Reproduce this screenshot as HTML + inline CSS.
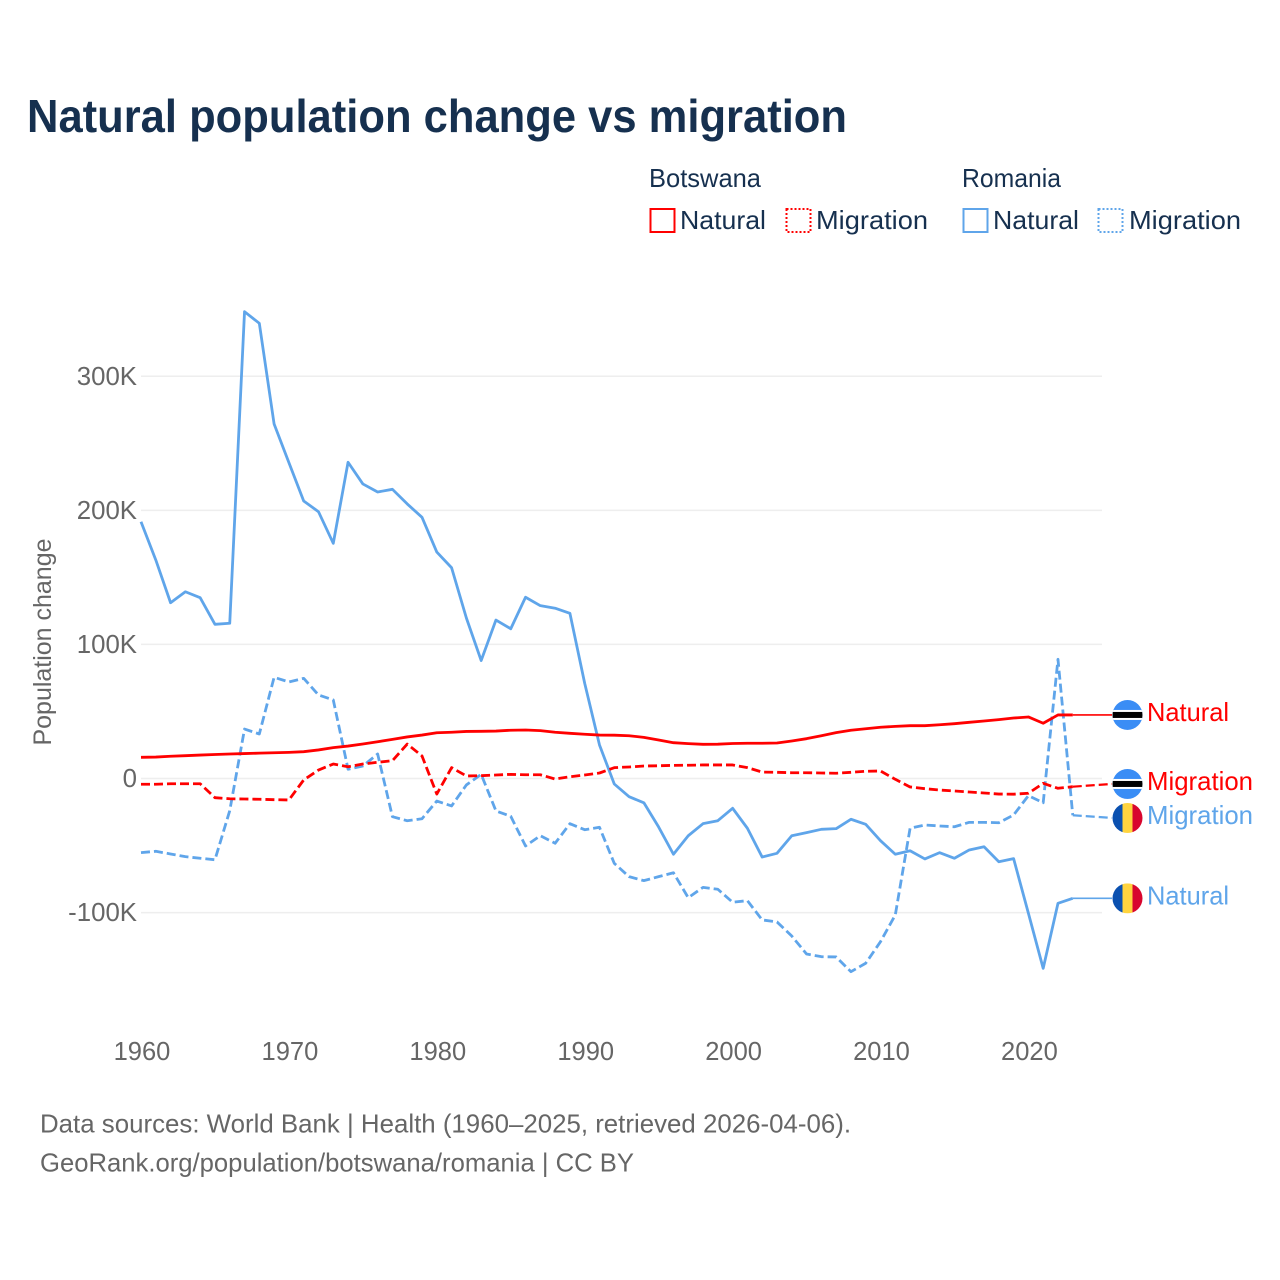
<!DOCTYPE html>
<html lang="en">
<head>
<meta charset="utf-8">
<title>Natural population change vs migration</title>
<style>
html,body{margin:0;padding:0;background:#fff;width:1280px;height:1280px;overflow:hidden}
svg{display:block}
text{font-family:"Liberation Sans",sans-serif}
</style>
</head>
<body>
<svg id="chart" xmlns="http://www.w3.org/2000/svg" width="1280" height="1280" viewBox="0 0 1280 1280">
  <rect width="1280" height="1280" fill="#ffffff"/>
  <text x="27" y="132" font-size="46" font-weight="700" fill="#16304f" textLength="820" lengthAdjust="spacingAndGlyphs">Natural population change vs migration</text>

  <g font-size="26" fill="#16304f">
    <text x="649" y="187" textLength="112" lengthAdjust="spacingAndGlyphs">Botswana</text>
    <text x="962" y="187" textLength="99" lengthAdjust="spacingAndGlyphs">Romania</text>
    <rect x="650.5" y="209" width="24" height="23" fill="none" stroke="#ff0000" stroke-width="2"/>
    <text x="680" y="229" textLength="86" lengthAdjust="spacingAndGlyphs">Natural</text>
    <rect x="786.5" y="209" width="24" height="23" fill="none" stroke="#ff0000" stroke-width="2" stroke-dasharray="2 2"/>
    <text x="816" y="229" textLength="112" lengthAdjust="spacingAndGlyphs">Migration</text>
    <rect x="963.5" y="209" width="24" height="23" fill="none" stroke="#5fa5ea" stroke-width="2"/>
    <text x="993" y="229" textLength="86" lengthAdjust="spacingAndGlyphs">Natural</text>
    <rect x="1098.5" y="209" width="24" height="23" fill="none" stroke="#5fa5ea" stroke-width="2" stroke-dasharray="2 2"/>
    <text x="1129" y="229" textLength="112" lengthAdjust="spacingAndGlyphs">Migration</text>
  </g>

  <text transform="translate(51,642) rotate(-90)" text-anchor="middle" font-size="25" fill="#666666" textLength="207" lengthAdjust="spacingAndGlyphs">Population change</text>

  <g id="grid"></g>
  <g id="y-ticks"></g>
  <g id="x-ticks"></g>
  <g id="series"></g>
  <g id="end-labels"></g>

  <text x="40" y="1132.5" font-size="26" fill="#666666" textLength="811" lengthAdjust="spacingAndGlyphs">Data sources: World Bank | Health (1960–2025, retrieved 2026-04-06).</text>
  <text x="40" y="1171.5" font-size="26" fill="#666666" textLength="594" lengthAdjust="spacingAndGlyphs">GeoRank.org/population/botswana/romania | CC BY</text>
</svg>

<script>
// Values in thousands of people, one per year from 1960.
var firstYear = 1960;
var xTickYears = [1960, 1970, 1980, 1990, 2000, 2010, 2020];
var yTickValues = [300, 200, 100, 0, -100];
var yTickLabels = ['300K', '200K', '100K', '0', '-100K'];

var romaniaNatural = [191.5,163.0,131.1,139.3,134.9,115.0,115.8,348.2,339.5,264.4,235.6,207.0,199.0,175.4,235.9,219.7,213.7,215.7,204.8,194.8,168.9,157.2,119.7,88.0,118.2,111.7,135.2,128.9,127.0,123.2,71.0,25.0,-4.1,-13.6,-18.1,-36.2,-56.5,-42.7,-33.7,-31.5,-22.2,-37.1,-58.6,-55.8,-42.7,-40.4,-37.9,-37.4,-30.4,-34.2,-46.4,-56.5,-53.9,-60.0,-55.3,-59.5,-53.3,-50.9,-62.1,-59.8,-100.5,-141.6,-93.1,-89.4];
var romaniaMigration = [-55.3,-54.3,-56.3,-58.3,-59.5,-60.6,-24.0,36.9,33.2,75.5,72.0,74.7,62.3,58.6,6.9,9.3,18.3,-28.5,-31.5,-30.0,-16.8,-20.5,-4.8,3.1,-24.2,-28.2,-50.3,-42.7,-48.3,-33.7,-38.2,-36.4,-63.3,-73.2,-76.2,-73.2,-70.3,-88.9,-81.2,-82.6,-92.3,-91.1,-105.5,-107.0,-117.5,-130.9,-132.9,-133.1,-144.1,-137.8,-121.7,-101.8,-37.1,-34.7,-35.4,-36.0,-32.7,-32.7,-33.0,-27.2,-12.8,-18.1,88.9,-27.4];
var botswanaNatural = [15.8,16.0,16.6,17.0,17.5,17.9,18.3,18.6,18.9,19.2,19.5,20.0,21.3,23.0,24.2,25.7,27.4,29.2,31.0,32.4,34.1,34.5,35.1,35.2,35.4,36.0,36.2,35.7,34.5,33.7,33.0,32.4,32.3,31.9,30.7,28.7,26.7,26.0,25.5,25.6,26.1,26.3,26.3,26.5,28.0,29.7,31.9,34.2,36.0,37.1,38.2,38.9,39.4,39.4,40.1,40.9,41.9,42.9,43.9,45.1,45.9,41.2,47.4,47.4];
var botswanaMigration = [-4.3,-4.3,-3.9,-3.9,-3.9,-14.3,-15.1,-15.3,-15.5,-15.8,-16.0,-1.1,6.3,10.8,8.8,10.8,12.1,13.3,25.7,16.8,-11.6,8.1,1.9,2.1,2.6,3.1,2.8,2.8,-0.4,1.3,2.6,4.1,8.1,8.6,9.3,9.5,9.8,9.9,10.1,10.1,10.1,8.1,4.8,4.6,4.3,4.3,4.1,3.9,4.6,5.4,5.6,-0.6,-6.3,-7.6,-8.6,-9.3,-10.1,-10.8,-11.6,-11.7,-11.0,-3.6,-7.3,-6.1];

var SVGNS = 'http://www.w3.org/2000/svg';
var RED = '#ff0000';
var BLUE = '#5fa5ea';

function xScale(year) { return 141 + (year - firstYear) * 14.79; }
function yScale(value) { return 778.5 - value * 1.3407; }

function make(tag, attrs, parent) {
  var el = document.createElementNS(SVGNS, tag);
  for (var k in attrs) el.setAttribute(k, attrs[k]);
  parent.appendChild(el);
  return el;
}

var gridGroup = document.getElementById('grid');
var yTickGroup = document.getElementById('y-ticks');
yTickValues.forEach(function (v, i) {
  var gy = yScale(v);
  var line = make('line', {x1: 141, x2: 1102, y1: gy, y2: gy, stroke: '#eeeeee', 'stroke-width': 1.5}, gridGroup);
  
  
  var label = make('text', {x: 137, y: gy + 8.5, 'text-anchor': 'end', 'font-size': 25.8, fill: '#666666'}, yTickGroup);
  label.textContent = yTickLabels[i];
  
  
});

var xTickGroup = document.getElementById('x-ticks');
xTickYears.forEach(function (year) {
  var label = make('text', {x: xScale(year) + 1, y: 1060, 'text-anchor': 'middle', 'font-size': 25.5, fill: '#666666'}, xTickGroup);
  label.textContent = String(year);
  
  
});

function linePath(values) {
  return values.map(function (v, i) {
    return (i ? 'L' : 'M') + xScale(firstYear + i).toFixed(2) + ' ' + yScale(v).toFixed(2);
  }).join(' ');
}

var seriesGroup = document.getElementById('series');
function drawLine(values, color, dash, name) {
  var path = make('path', {d: linePath(values), fill: 'none', stroke: color, 'stroke-width': 2.8, 'stroke-linejoin': 'round'}, seriesGroup);
  if (dash) path.setAttribute('stroke-dasharray', '9 4');
  
  
}
drawLine(romaniaNatural, BLUE, false, 'line-romania-natural');
drawLine(romaniaMigration, BLUE, true, 'line-romania-migration');
drawLine(botswanaMigration, RED, true, 'line-botswana-migration');
drawLine(botswanaNatural, RED, false, 'line-botswana-natural');

// End labels with simple collision avoidance
var endItems = [
  {values: botswanaNatural, color: RED, dash: false, text: 'Natural', flag: 'bw', w: 82},
  {values: botswanaMigration, color: RED, dash: true, text: 'Migration', flag: 'bw', w: 106},
  {values: romaniaMigration, color: BLUE, dash: true, text: 'Migration', flag: 'ro', w: 106},
  {values: romaniaNatural, color: BLUE, dash: false, text: 'Natural', flag: 'ro', w: 82}
];
endItems.forEach(function (it) {
  it.lastY = yScale(it.values[it.values.length - 1]);
  it.ly = it.lastY;
});
endItems.sort(function (a, b) { return a.lastY - b.lastY; });
for (var pass = 0; pass < 5; pass++) {
  for (var j = 1; j < endItems.length; j++) {
    var gap = endItems[j].ly - endItems[j - 1].ly;
    if (gap < 34) {
      var shift = (34 - gap) / 2;
      endItems[j - 1].ly -= shift;
      endItems[j].ly += shift;
    }
  }
}

var labelGroup = document.getElementById('end-labels');
var clipCount = 0;
function drawFlag(kind, cx, cy, parent) {
  var group = make('g', {}, parent);
  
  
  var id = 'flag-clip-' + (clipCount++);
  var clip = make('clipPath', {id: id}, group);
  make('circle', {cx: cx, cy: cy, r: 15}, clip);
  var inner = make('g', {'clip-path': 'url(#' + id + ')'}, group);
  if (kind === 'bw') {
    make('rect', {x: cx - 15, y: cy - 15, width: 30, height: 30, fill: '#3a8df5'}, inner);
    make('rect', {x: cx - 15, y: cy - 5, width: 30, height: 10, fill: '#ffffff'}, inner);
    make('rect', {x: cx - 15, y: cy - 3, width: 30, height: 6, fill: '#000000'}, inner);
  } else {
    make('rect', {x: cx - 15, y: cy - 15, width: 10, height: 30, fill: '#0a50b0'}, inner);
    make('rect', {x: cx - 5, y: cy - 15, width: 10, height: 30, fill: '#ffd43f'}, inner);
    make('rect', {x: cx + 5, y: cy - 15, width: 10, height: 30, fill: '#d8062e'}, inner);
  }
}
endItems.forEach(function (it) {
  var lastX = xScale(firstYear + it.values.length - 1);
  var connector = make('line', {x1: lastX, y1: it.lastY, x2: 1112, y2: it.ly, stroke: it.color, 'stroke-width': it.dash ? 2.2 : 1.6}, labelGroup);
  if (it.dash) connector.setAttribute('stroke-dasharray', '9 4');
  
  
  drawFlag(it.flag, 1127.5, it.ly, labelGroup);
  var label = make('text', {x: 1147, y: it.ly + 6, 'font-size': 26, fill: it.color, textLength: it.w, lengthAdjust: 'spacingAndGlyphs'}, labelGroup);
  label.textContent = it.text;
  
  
});
</script>
</body>
</html>
